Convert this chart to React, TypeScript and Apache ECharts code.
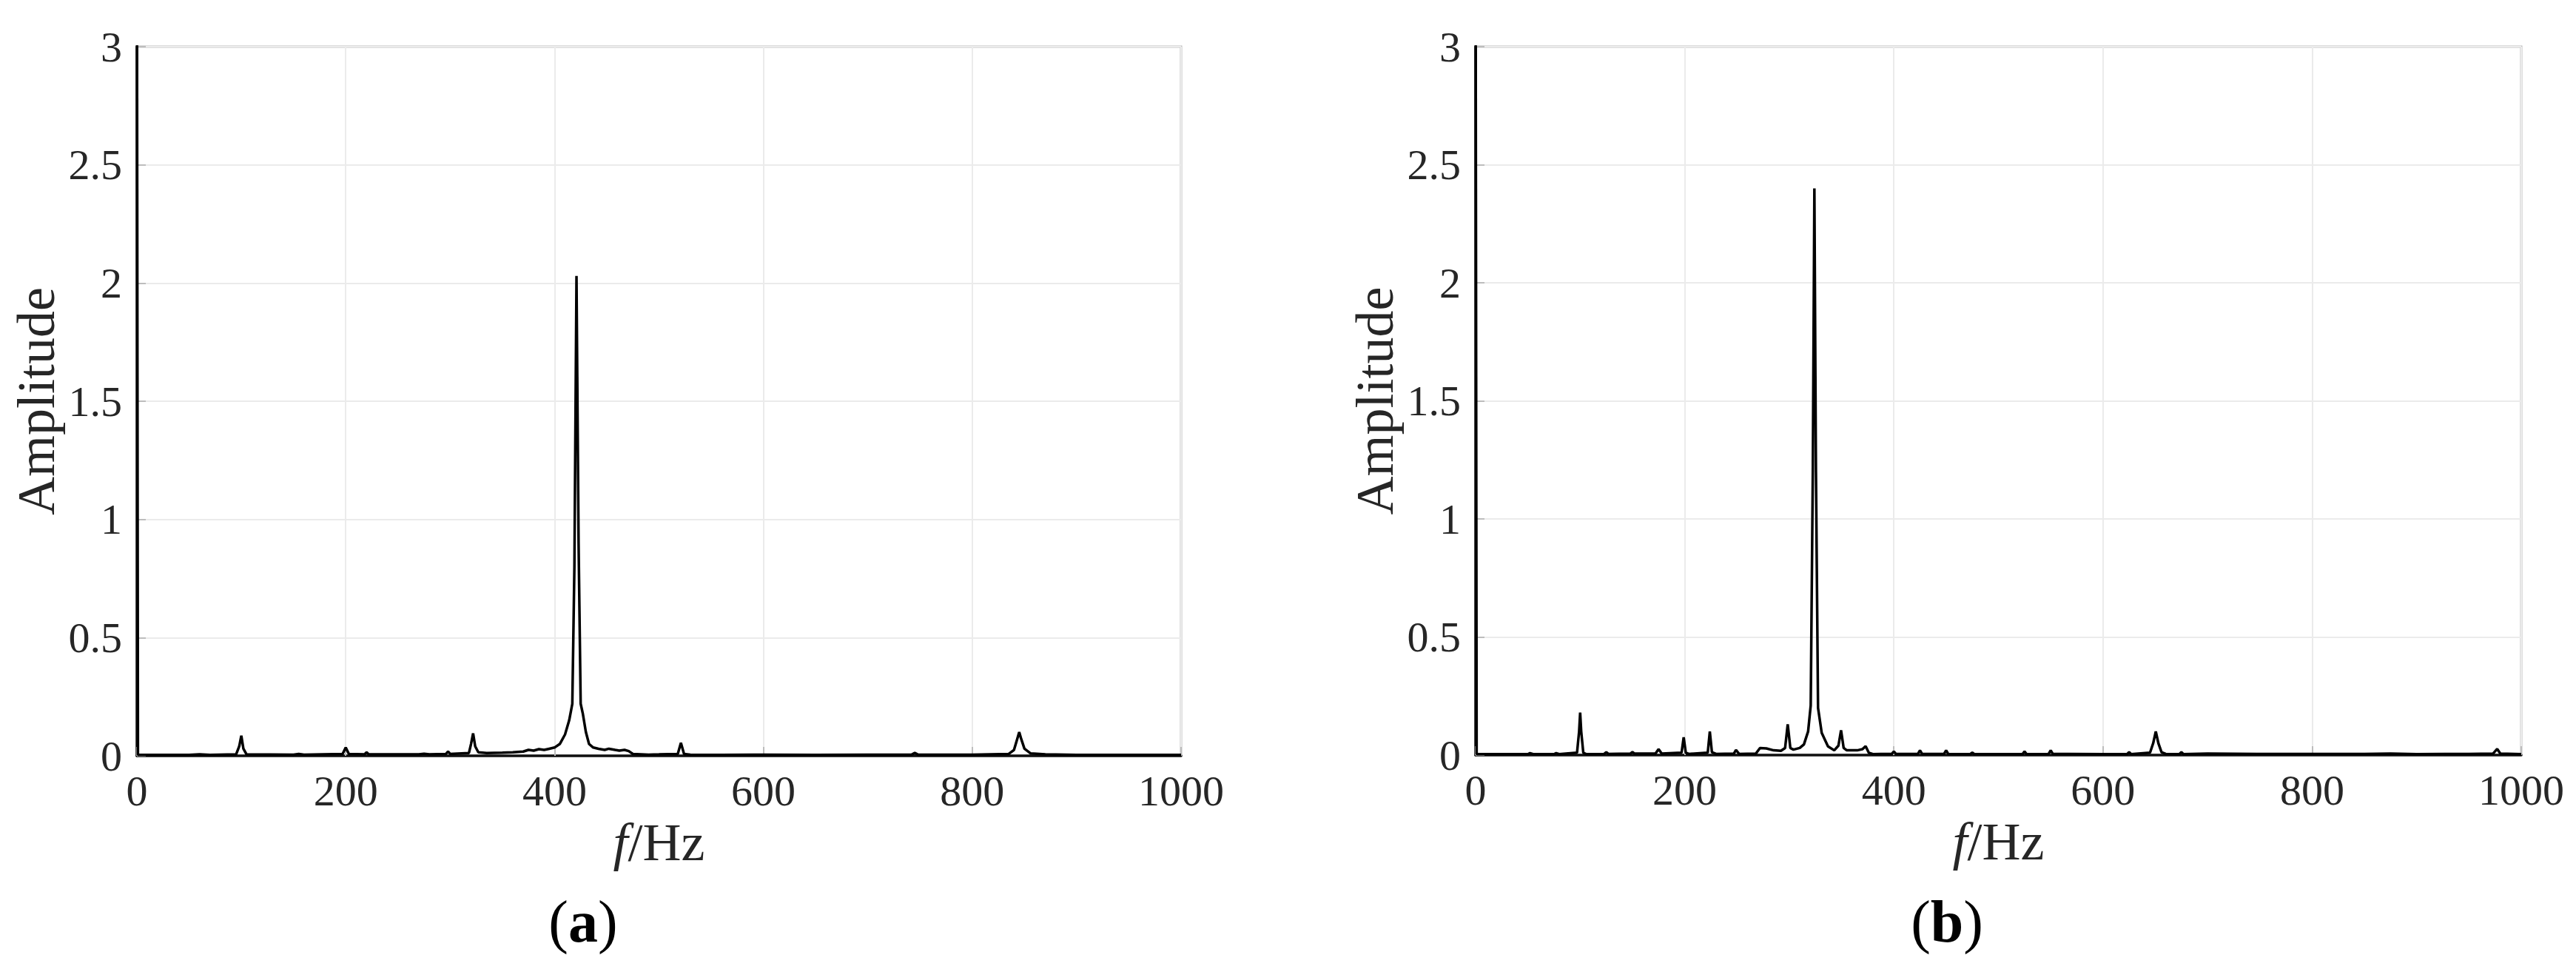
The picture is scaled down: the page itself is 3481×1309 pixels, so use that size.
import React, { useEffect, useRef } from "react";
import * as echarts from "echarts";

// ---- Data ----
const freqA: number[] = [
  0, 1, 50, 60, 70, 95, 98, 100, 102, 105, 150, 155, 160, 197, 200, 203, 218, 220, 222,
  270, 275, 280, 296, 298, 300, 318, 320, 322, 324, 327, 335, 350, 360, 370, 375, 380, 385,
  390, 395, 400, 405, 410, 414, 417, 419, 421, 423, 425, 427, 430, 433, 437, 442, 448, 452,
  458, 462, 467, 471, 475, 490, 500, 518, 521, 524, 530, 560, 600, 650, 700, 742, 745, 748,
  800, 835, 840, 843, 845, 847, 850, 856, 870, 900, 950, 1000,
];
const ampA: number[] = [
  3.5, 0.004, 0.004, 0.006, 0.004, 0.006, 0.04, 0.085, 0.03, 0.006, 0.005, 0.008, 0.005, 0.008, 0.035, 0.008, 0.006, 0.015, 0.006,
  0.006, 0.009, 0.006, 0.008, 0.018, 0.008, 0.012, 0.05, 0.095, 0.04, 0.015, 0.012, 0.013, 0.015, 0.018, 0.025, 0.022, 0.028,
  0.025, 0.03, 0.035, 0.05, 0.09, 0.15, 0.22, 0.8, 2.03, 0.9, 0.22, 0.18, 0.1, 0.05, 0.035, 0.03, 0.025, 0.03,
  0.025, 0.022, 0.025, 0.02, 0.008, 0.005, 0.006, 0.008, 0.055, 0.008, 0.005, 0.004, 0.005, 0.004, 0.005, 0.005, 0.012, 0.005,
  0.005, 0.008, 0.025, 0.07, 0.1, 0.07, 0.03, 0.01, 0.006, 0.004, 0.004, 0.004,
];

const freqB: number[] = [
  0, 1, 50, 52, 55, 75, 77, 80, 97, 99, 100, 101, 103, 106, 123, 125, 127, 148, 150, 152,
  172, 175, 178, 197, 199, 201, 204, 222, 224, 226, 230, 247, 249, 252, 268, 272, 278, 285,
  292, 296, 298.5, 301, 304, 310, 314, 318, 320.5, 322.5, 324, 325.5, 327.5, 331, 337, 343,
  347, 349.5, 352, 355, 365, 370, 373, 376, 380, 398, 400, 402, 423, 425, 427, 448, 450, 452,
  473, 475, 477, 523, 525, 527, 548, 550, 552, 600, 623, 625, 627, 645, 648, 650.5, 653, 656,
  660, 673, 675, 677, 700, 750, 800, 850, 875, 900, 950, 973, 977, 980, 1000,
];
const ampB: number[] = [
  3.5, 0.004, 0.004, 0.008, 0.004, 0.004, 0.008, 0.004, 0.01, 0.1, 0.18, 0.1, 0.01, 0.004, 0.005, 0.012, 0.005, 0.006, 0.013, 0.006,
  0.006, 0.025, 0.006, 0.01, 0.075, 0.01, 0.005, 0.01, 0.1, 0.012, 0.005, 0.006, 0.022, 0.005, 0.006, 0.03, 0.028, 0.02,
  0.018, 0.03, 0.13, 0.03, 0.023, 0.03, 0.045, 0.1, 0.21, 1.2, 2.4, 1.2, 0.2, 0.094, 0.037, 0.02,
  0.04, 0.105, 0.03, 0.02, 0.02, 0.025, 0.038, 0.01, 0.004, 0.005, 0.015, 0.005, 0.005, 0.02, 0.005, 0.005, 0.02, 0.005,
  0.004, 0.01, 0.004, 0.004, 0.015, 0.004, 0.005, 0.02, 0.005, 0.004, 0.004, 0.012, 0.004, 0.01, 0.05, 0.1, 0.05, 0.012,
  0.005, 0.004, 0.012, 0.004, 0.006, 0.005, 0.005, 0.005, 0.006, 0.004, 0.005, 0.006, 0.026, 0.006, 0.004,
];

const panelLabels: string[] = ["a", "b"];
const xName = "{i|f}/Hz";
const yName = "Amplitude";

const FONT = "'Liberation Serif', 'Times New Roman', serif";
const TEXT = "#262626";
const AXIS = "#bdbdbd";
const GRIDLINE = "#ebebeb";

function pairs(xs: number[], ys: number[]): number[][] {
  return xs.map((x, i) => [x, ys[i]]);
}

const grids = [
  { left: 185, top: 63, width: 1411, height: 958 },
  { left: 1994, top: 63, width: 1413, height: 957 },
];

export default function App() {
  const ref = useRef<HTMLDivElement>(null);
  useEffect(() => {
    if (!ref.current) return;
    const chart = echarts.init(ref.current, undefined, { renderer: "svg" });
    const xAxes = grids.map((_, i) => ({
      type: "value",
      gridIndex: i,
      min: 0,
      max: 1000,
      interval: 200,
      name: xName,
      nameLocation: "middle",
      nameGap: 80,
      nameTextStyle: {
        fontFamily: FONT,
        fontSize: 72,
        color: TEXT,
        rich: { i: { fontFamily: FONT, fontSize: 72, fontStyle: "italic", color: TEXT } },
      },
      axisLine: { show: true, lineStyle: { color: "#111111", width: 3.5 } },
      axisTick: { show: true, inside: true, length: 12, lineStyle: { color: AXIS, width: 2 } },
      axisLabel: {
        fontFamily: FONT,
        fontSize: 58,
        color: TEXT,
        margin: 18,
        formatter: (v: number) => String(v),
      },
      splitLine: { show: true, lineStyle: { color: GRIDLINE, width: 2 } },
    }));
    const yAxes = grids.map((_, i) => ({
      type: "value",
      gridIndex: i,
      min: 0,
      max: 3,
      interval: 0.5,
      name: yName,
      nameLocation: "middle",
      nameGap: 100,
      nameTextStyle: { fontFamily: FONT, fontSize: 72, color: TEXT },
      axisLine: { show: true, lineStyle: { color: "#111111", width: 3.5 } },
      axisTick: { show: true, inside: true, length: 12, lineStyle: { color: AXIS, width: 2 } },
      axisLabel: {
        fontFamily: FONT,
        fontSize: 58,
        color: TEXT,
        margin: 20,
        formatter: (v: number) => String(v),
      },
      splitLine: { show: true, lineStyle: { color: GRIDLINE, width: 2 } },
    }));
    const labelPos = [
      { x: 788, y: 1245 },
      { x: 2631, y: 1245 },
    ];
    chart.setOption({
      animation: false,
      backgroundColor: "#ffffff",
      grid: grids.map((g) => ({ ...g, show: true, borderColor: AXIS, borderWidth: 3, backgroundColor: "transparent" })),
      xAxis: xAxes,
      yAxis: yAxes,
      series: [
        {
          type: "line",
          xAxisIndex: 0,
          yAxisIndex: 0,
          data: pairs(freqA, ampA),
          showSymbol: false,
          clip: true,
          lineStyle: { color: "#000000", width: 3.5 },
        },
        {
          type: "line",
          xAxisIndex: 1,
          yAxisIndex: 1,
          data: pairs(freqB, ampB),
          showSymbol: false,
          clip: true,
          lineStyle: { color: "#000000", width: 3.5 },
        },
      ],
      graphic: panelLabels.map((l, i) => ({
        type: "text",
        x: labelPos[i].x,
        y: labelPos[i].y,
        style: {
          text: "{p|(}{b|" + l + "}{p|)}",
          align: "center",
          verticalAlign: "middle",
          fill: "#000000",
          font: `80px ${FONT}`,
          rich: {
            p: { fontFamily: FONT, fontSize: 80, color: "#000000" },
            b: { fontFamily: FONT, fontSize: 80, fontWeight: "bold", color: "#000000" },
          },
        },
      })),
    });
    return () => chart.dispose();
  }, []);
  return (
    <div
      ref={ref}
      style={{ position: "absolute", left: 0, top: 0, width: 3481, height: 1309, background: "#fff" }}
    />
  );
}
